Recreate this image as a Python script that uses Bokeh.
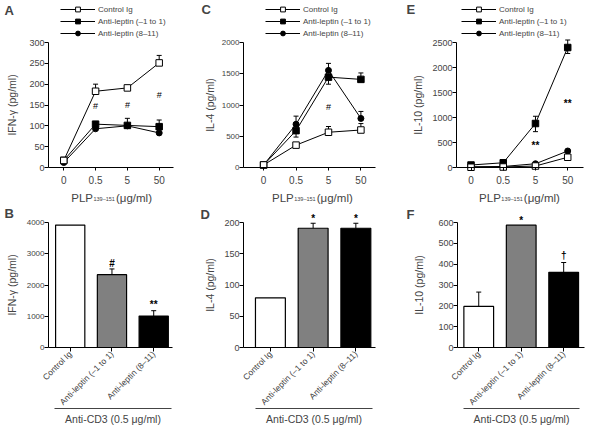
import math
from bokeh.plotting import figure
from bokeh.models import (Range1d, FixedTicker, LinearAxis, Whisker, TeeHead,
                          ColumnDataSource, LabelSet, Label, Legend, LegendItem)
from bokeh.core.properties import value
from bokeh.layouts import row, column
from bokeh.embed import file_html
from bokeh.resources import INLINE

FONT = "Liberation Sans"

# ---------------- data ----------------
doses = ["0", "0.5", "5", "50"]
groups = ["Control Ig", "Anti-leptin (–1 to 1)", "Anti-leptin (8–11)"]

# A  IFN-γ (pg/ml) vs PLP dose
ifng_ctrl = [17, 183, 191, 251]
ifng_m1 = [17, 104, 101, 98]
ifng_811 = [12, 93, 100, 83]
ifng_ctrl_up = [0, 17, 0, 18]
ifng_m1_up = [0, 0, 17, 16]
ifng_sig_at = ["0.5", "5", "50"]
ifng_sig_y = [147, 151, 175]
ifng_sig = ["#", "#", "#"]
ifng_ticks = [0, 50, 100, 150, 200, 250, 300]

# C  IL-4 (pg/ml) vs PLP dose
il4_ctrl = [41, 358, 564, 600]
il4_m1 = [40, 590, 1446, 1410]
il4_811 = [40, 692, 1554, 785]
il4_ctrl_up = [0, 0, 92, 103]
il4_m1_up = [0, 0, 0, 103]
il4_m1_down = [0, 103, 113, 0]
il4_811_up = [0, 130, 112, 112]
il4_sig_at = ["5"]
il4_sig_y = [974]
il4_sig = ["#"]
il4_ticks = [0, 500, 1000, 1500, 2000]

# E  IL-10 (pg/ml) vs PLP dose
il10_ctrl = [5, 10, 30, 205]
il10_m1 = [50, 95, 880, 2400]
il10_811 = [15, 20, 75, 330]
il10_m1_up = [0, 0, 145, 150]
il10_m1_down = [0, 0, 163, 120]
il10_sig_at = ["5", "50"]
il10_sig_y = [435, 1280]
il10_sig = ["**", "**"]
il10_ticks = [0, 500, 1000, 1500, 2000, 2500]

# B  IFN-γ with anti-CD3
ifng_bar = [3917, 2329, 1006]
ifng_bar_up = [0, 185, 172]
ifng_bar_sig = ["", "#", "**"]
ifng_bar_sig_y = [0, 2698, 1364]
ifng_bar_ticks = [0, 1000, 2000, 3000, 4000]

# D  IL-4 with anti-CD3
il4_bar = [79.5, 190.8, 190.8]
il4_bar_up = [0, 8, 8]
il4_bar_sig = ["", "*", "*"]
il4_bar_sig_y = [0, 207, 207]
il4_bar_ticks = [0, 50, 100, 150, 200]

# F  IL-10 with anti-CD3
il10_bar = [197, 587, 361]
il10_bar_up = [69, 0, 47]
il10_bar_sig = ["", "*", "†"]
il10_bar_sig_y = [0, 612, 443]
il10_bar_ticks = [0, 100, 200, 300, 400, 500, 600]

xlabel_main = "PLP"
xlabel_sub = "139–151"
xlabel_unit = "(μg/ml)"
group_label = "Anti-CD3 (0.5 μg/ml)"

bar_colors = ["white", "#808080", "black"]


class Geo:
    """pixel geometry of one panel: the axes box sits inside a full-canvas frame"""
    def __init__(self, W, H, L, T, fw, fh, xr, yr):
        self.W, self.H, self.L, self.T, self.fw, self.fh = W, H, L, T, fw, fh
        self.R = W - L - fw
        self.B = H - T - fh
        self.x0, self.x1 = xr
        self.y0, self.y1 = yr
        self.sx = (self.x1 - self.x0) / fw
        self.sy = (self.y1 - self.y0) / fh

    def full_x(self):
        return (self.x0 - self.L * self.sx, self.x1 + self.R * self.sx)

    def full_y(self):
        return (self.y0 - self.B * self.sy, self.y1 + self.T * self.sy)


def base_fig(g, yticks, ylabel, tick_size, ylab_standoff):
    p = figure(frame_width=g.W, frame_height=g.H, min_border=0,
               x_range=Range1d(*g.full_x()), y_range=Range1d(*g.full_y()),
               output_backend="svg", toolbar_location=None, tools="")
    p.outline_line_color = None
    p.grid.visible = False
    p.background_fill_color = "white"
    p.border_fill_color = "white"
    ya = p.yaxis[0]
    ya.fixed_location = g.x0
    ya.bounds = (g.y0, g.y1)
    ya.ticker = FixedTicker(ticks=yticks)
    ya.axis_label = ylabel
    ya.axis_label_text_font = FONT
    ya.axis_label_text_font_size = "10.5px"
    ya.axis_label_text_font_style = "normal"
    ya.axis_label_standoff = ylab_standoff
    ya.major_label_text_font = FONT
    ya.major_label_text_font_size = tick_size
    ya.major_label_standoff = 0
    ya.major_tick_out = 4
    ya.major_tick_in = 0
    ya.minor_tick_line_color = None
    ya.axis_line_color = "black"
    ya.major_tick_line_color = "black"
    xa = p.xaxis[0]
    xa.fixed_location = g.y0
    xa.bounds = (g.x0, g.x1)
    xa.minor_tick_line_color = None
    xa.major_tick_in = 0
    xa.axis_line_color = "black"
    xa.major_tick_line_color = "black"
    xa.major_label_text_font = FONT
    return p


def add_whiskers(p, xs, vals, ups, downs):
    ux = [x for x, u in zip(xs, ups) if u > 0]
    if ux:
        src = ColumnDataSource(dict(
            base=ux,
            lower=[v for v, u in zip(vals, ups) if u > 0],
            upper=[v + u for v, u in zip(vals, ups) if u > 0]))
        p.add_layout(Whisker(source=src, base="base", lower="lower", upper="upper",
                             dimension="height", line_color="black", line_width=1,
                             upper_head=TeeHead(size=5, line_color="black", line_width=1),
                             lower_head=None))
    if downs is not None:
        dx = [x for x, d in zip(xs, downs) if d > 0]
        if dx:
            src = ColumnDataSource(dict(
                base=dx,
                lower=[v - d for v, d in zip(vals, downs) if d > 0],
                upper=[v for v, d in zip(vals, downs) if d > 0]))
            p.add_layout(Whisker(source=src, base="base", lower="lower", upper="upper",
                                 dimension="height", line_color="black", line_width=1,
                                 lower_head=TeeHead(size=5, line_color="black", line_width=1),
                                 upper_head=None))


def add_sig(p, xs, ys, texts, size="10px", bold=True):
    keep = [i for i, t in enumerate(texts) if t]
    src = ColumnDataSource(dict(x=[xs[i] for i in keep], y=[ys[i] for i in keep],
                                t=[texts[i] for i in keep]))
    p.add_layout(LabelSet(x="x", y="y", text="t", source=src, text_align="center",
                          text_baseline="middle", text_font=value(FONT),
                          text_font_size=size,
                          text_font_style="bold" if bold else "normal",
                          text_color="black"))


def add_letter(p, g, letter, px, py):
    X0, _ = g.full_x()
    _, Y1 = g.full_y()
    p.add_layout(Label(x=X0, y=Y1, x_offset=px, y_offset=-py,
                       text=letter, text_font=FONT, text_font_size="13px",
                       text_font_style="bold", text_align="left", text_baseline="top"))


def line_panel(letter, letter_pos, g, yticks, ylabel, tick_size, ylab_standoff,
               ctrl, m1, s811, errs, sig_at, sig_y, sig, legend_dx, sig_bold):
    p = base_fig(g, yticks, ylabel, tick_size, ylab_standoff)
    xs = list(range(len(doses)))
    xa = p.xaxis[0]
    xa.ticker = FixedTicker(ticks=xs)
    xa.major_label_overrides = {i: d for i, d in enumerate(doses)}
    xa.major_label_text_font_size = "10px"
    xa.major_tick_out = 3
    xa.major_label_standoff = 5

    for (vals, ups, downs) in errs:
        add_whiskers(p, xs, vals, ups, downs)

    l811 = p.line(xs, s811, line_color="black", line_width=1)
    c811 = p.scatter(xs, s811, marker="circle", size=6, fill_color="black", line_color="black")
    lm1 = p.line(xs, m1, line_color="black", line_width=1)
    cm1 = p.scatter(xs, m1, marker="square", size=6.5, fill_color="black", line_color="black")
    lc = p.line(xs, ctrl, line_color="black", line_width=1)
    cc = p.scatter(xs, ctrl, marker="square", size=6.5, fill_color="white", line_color="black",
                   line_width=1)

    add_sig(p, [doses.index(d) for d in sig_at], sig_y, sig,
            size="10px" if sig_bold else "9px", bold=sig_bold)

    legend = Legend(items=[LegendItem(label=groups[0], renderers=[lc, cc]),
                           LegendItem(label=groups[1], renderers=[lm1, cm1]),
                           LegendItem(label=groups[2], renderers=[l811, c811])],
                    location=(g.L + legend_dx, g.B + g.fh + 3), orientation="vertical",
                    glyph_width=35, glyph_height=12, label_height=12, label_standoff=3,
                    padding=0, margin=0, spacing=0, border_line_color=None,
                    background_fill_alpha=0, label_text_font=FONT,
                    label_text_font_size="8px")
    p.add_layout(legend, "center")

    cx = (len(doses) - 1) / 2
    p.add_layout(Label(x=cx, y=g.y0, x_offset=-18.5, y_offset=-30, text=xlabel_main,
                       text_font=FONT, text_font_size="11.5px", text_align="right",
                       text_baseline="alphabetic"))
    p.add_layout(Label(x=cx, y=g.y0, x_offset=-18, y_offset=-31.5, text=xlabel_sub,
                       text_font=FONT, text_font_size="5.5px", text_align="left",
                       text_baseline="alphabetic"))
    p.add_layout(Label(x=cx, y=g.y0, x_offset=4.5, y_offset=-30, text=xlabel_unit,
                       text_font=FONT, text_font_size="11.5px", text_align="left",
                       text_baseline="alphabetic"))
    add_letter(p, g, letter, *letter_pos)
    return p


def bar_panel(letter, letter_pos, g, yticks, ylabel, tick_size, ylab_standoff,
              vals, ups, sig, sig_y, group_inset):
    p = base_fig(g, yticks, ylabel, tick_size, ylab_standoff)
    xs = list(range(len(groups)))
    xa = p.xaxis[0]
    xa.ticker = FixedTicker(ticks=xs)
    xa.major_label_overrides = {i: gname for i, gname in enumerate(groups)}
    xa.major_label_text_font_size = "8.5px"
    xa.major_label_orientation = math.pi / 4
    xa.major_tick_out = 4
    xa.major_label_standoff = 1

    p.vbar(x=xs, top=vals, bottom=0, width=0.7, fill_color=bar_colors,
           line_color="black", line_width=1.2)
    add_whiskers(p, xs, vals, ups, None)
    add_sig(p, xs, sig_y, sig)

    gl, gr = group_inset
    ax2 = LinearAxis(ticker=FixedTicker(ticks=[]), axis_label=group_label,
                     fixed_location=g.y0 - 60.5 * g.sy,
                     bounds=(g.x0 + gl * g.sx, g.x1 - gr * g.sx),
                     axis_label_text_font=FONT, axis_label_text_font_size="10.5px",
                     axis_label_text_font_style="normal", axis_label_standoff=4,
                     major_tick_out=0, major_tick_in=0, minor_tick_out=0, minor_tick_in=0,
                     major_label_standoff=0, major_label_text_font_size="0px",
                     axis_line_color="#444444", axis_line_width=1.2)
    p.add_layout(ax2, "below")
    add_letter(p, g, letter, *letter_pos)
    return p


gA = Geo(195, 205, 48, 42, 125, 125, (-0.48, 3.45), (ifng_ticks[0], ifng_ticks[-1]))
gC = Geo(195, 205, 48, 42, 132, 125, (-0.62, 3.45), (il4_ticks[0], il4_ticks[-1]))
gE = Geo(205, 205, 66, 42, 127, 125, (-0.45, 3.49), (il10_ticks[0], il10_ticks[-1]))
gB = Geo(195, 224, 48, 17, 124, 125, (-0.52, 2.45), (ifng_bar_ticks[0], ifng_bar_ticks[-1]))
gD = Geo(195, 224, 48, 17, 132, 125, (-0.63, 2.46), (il4_bar_ticks[0], il4_bar_ticks[-1]))
gF = Geo(205, 224, 67, 17, 127, 125, (-0.5, 2.49), (il10_bar_ticks[0], il10_bar_ticks[-1]))

pA = line_panel("A", (4, 2), gA, ifng_ticks, "IFN-γ (pg/ml)", "9px", 8,
                ifng_ctrl, ifng_m1, ifng_811,
                [(ifng_ctrl, ifng_ctrl_up, None), (ifng_m1, ifng_m1_up, None)],
                ifng_sig_at, ifng_sig_y, ifng_sig, 12, False)
pC = line_panel("C", (6, 1), gC, il4_ticks, "IL-4 (pg/ml)", "8px", 3,
                il4_ctrl, il4_m1, il4_811,
                [(il4_ctrl, il4_ctrl_up, None), (il4_m1, il4_m1_up, il4_m1_down),
                 (il4_811, il4_811_up, None)],
                il4_sig_at, il4_sig_y, il4_sig, 22, False)
pE = line_panel("E", (16, 1), gE, il10_ticks, "IL-10 (pg/ml)", "9px", 5,
                il10_ctrl, il10_m1, il10_811,
                [(il10_m1, il10_m1_up, il10_m1_down)],
                il10_sig_at, il10_sig_y, il10_sig, 5, True)

pB = bar_panel("B", (4, 0), gB, ifng_bar_ticks, "IFN-γ (pg/ml)", "8px", 6,
               ifng_bar, ifng_bar_up, ifng_bar_sig, ifng_bar_sig_y, (6, 1))
pD = bar_panel("D", (5, 1), gD, il4_bar_ticks, "IL-4 (pg/ml)", "9px", 5,
               il4_bar, il4_bar_up, il4_bar_sig, il4_bar_sig_y, (12, 3))
pF = bar_panel("F", (16, 1), gF, il10_bar_ticks, "IL-10 (pg/ml)", "9px", 10,
               il10_bar, il10_bar_up, il10_bar_sig, il10_bar_sig_y, (6, 5))

layout = column(row(pA, pC, pE), row(pB, pD, pF))
open("out.html", "w").write(file_html(layout, INLINE))
